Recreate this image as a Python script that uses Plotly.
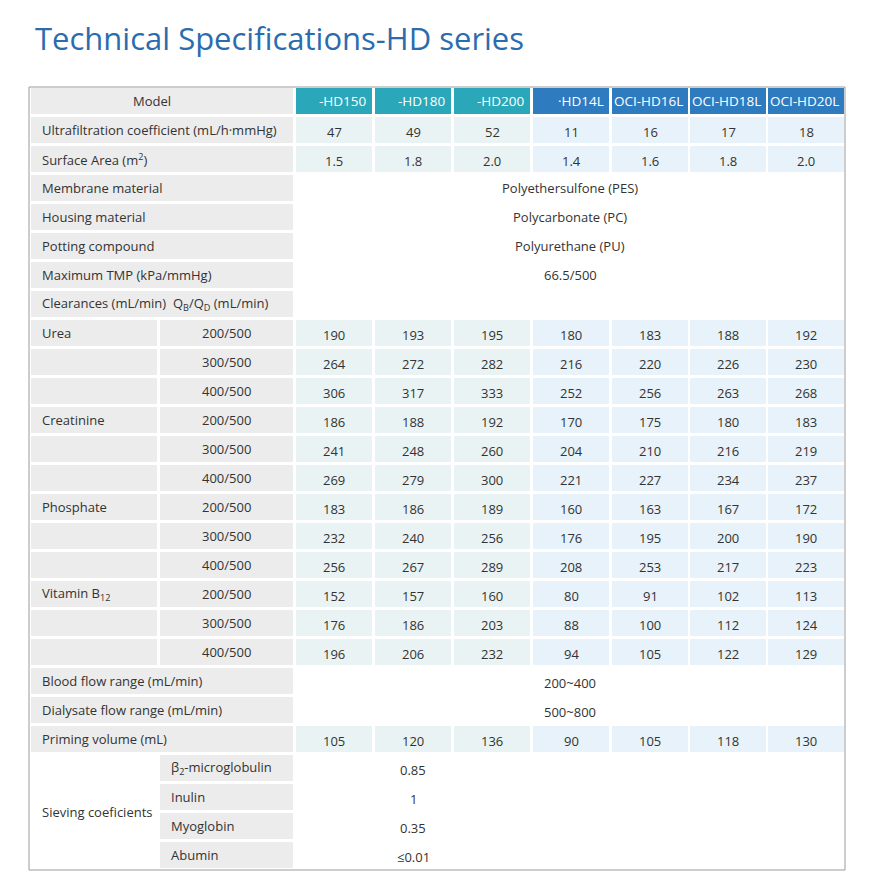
import plotly.graph_objects as go

models = ["-HD150", "-HD180", "-HD200", "·HD14L", "OCI-HD16L", "OCI-HD18L", "OCI-HD20L"]
ultrafiltration = [47, 49, 52, 11, 16, 17, 18]
surface_area = ["1.5", "1.8", "2.0", "1.4", "1.6", "1.8", "2.0"]
shared_specs = [
    ("Membrane material", "Polyethersulfone (PES)"),
    ("Housing material", "Polycarbonate (PC)"),
    ("Potting compound", "Polyurethane (PU)"),
    ("Maximum TMP (kPa/mmHg)", "66.5/500"),
]
flow_conditions = ["200/500", "300/500", "400/500"]
clearances = {
    "Urea": [[190, 193, 195, 180, 183, 188, 192],
             [264, 272, 282, 216, 220, 226, 230],
             [306, 317, 333, 252, 256, 263, 268]],
    "Creatinine": [[186, 188, 192, 170, 175, 180, 183],
                   [241, 248, 260, 204, 210, 216, 219],
                   [269, 279, 300, 221, 227, 234, 237]],
    "Phosphate": [[183, 186, 189, 160, 163, 167, 172],
                  [232, 240, 256, 176, 195, 200, 190],
                  [256, 267, 289, 208, 253, 217, 223]],
    "Vitamin B<sub>12</sub>": [[152, 157, 160, 80, 91, 102, 113],
                               [176, 186, 203, 88, 100, 112, 124],
                               [196, 206, 232, 94, 105, 122, 129]],
}
flow_ranges = [("Blood flow range (mL/min)", "200~400"),
               ("Dialysate flow range (mL/min)", "500~800")]
priming_volume = [105, 120, 136, 90, 105, 118, 130]
sieving_solutes = ["β<sub>2</sub>-microglobulin", "Inulin", "Myoglobin", "Abumin"]
sieving_values = ["0.85", "1", "0.35", "≤0.01"]

# layout geometry (pixels, page coordinates)
TOP, ROW_H = 88, 29.0
LBL_X0, LBL_SPLIT, LBL_X1 = 31, 159, 293
COL_X = [296, 375, 454, 533, 612, 690, 768]
COL_W = 76
GAP = 3
PAGE_PAD = 8  # browser body margin
TEXT = "#333333"
HEAD = ["#2aa8ba"] * 3 + ["#2f7bbf"] * 4
CELL = ["#eaf3f3"] * 3 + ["#e7f2fa"] * 4
GRAY = "#ececec"

shapes, annos = [], []


def rect(x0, x1, r, color, nrows=1):
    y0 = TOP + r * ROW_H
    shapes.append(dict(type="rect", x0=x0, x1=x1, y0=y0, y1=y0 + nrows * ROW_H - GAP,
                       fillcolor=color, line_width=0, layer="below"))


def text(x, r, s, align="center", color=TEXT, size=13, dy=0, nrows=1):
    y = TOP + r * ROW_H + (nrows * ROW_H - GAP) / 2 + dy
    annos.append(dict(x=x, y=y, text=s, showarrow=False, xanchor=align, yanchor="middle",
                      font=dict(color=color, size=size)))


def model_values(r, vals):
    for i, v in enumerate(vals):
        rect(COL_X[i], COL_X[i] + COL_W, r, CELL[i])
        text(COL_X[i] + COL_W / 2, r, str(v), dy=2)


r = 0
rect(LBL_X0, LBL_X1, r, GRAY)
text((LBL_X0 + LBL_X1) / 2 - 10, r, "Model")
for i, m in enumerate(models):
    rect(COL_X[i], COL_X[i] + COL_W, r, HEAD[i])
    text(COL_X[i] + COL_W - 3, r, m, align="right", color="white", size=13.5)
r += 1

rect(LBL_X0, LBL_X1, r, GRAY)
text(40, r, "Ultrafiltration coefficient (mL/h·mmHg)", align="left")
model_values(r, ultrafiltration)
r += 1
rect(LBL_X0, LBL_X1, r, GRAY)
text(40, r, "Surface Area (m<sup>2</sup>)", align="left")
model_values(r, surface_area)
r += 1

mid_all = (COL_X[0] + COL_X[-1] + COL_W) / 2
for lbl, val in shared_specs:
    rect(LBL_X0, LBL_X1, r, GRAY)
    text(40, r, lbl, align="left")
    text(mid_all, r, val)
    r += 1

rect(LBL_X0, LBL_X1, r, GRAY)
text(40, r, "Clearances (mL/min)  Q<sub>B</sub>/Q<sub>D</sub> (mL/min)", align="left")
r += 1

for name, rows in clearances.items():
    for k, vals in enumerate(rows):
        rect(LBL_X0, LBL_SPLIT - 2, r, GRAY)
        rect(LBL_SPLIT + 1, LBL_X1, r, GRAY)
        if k == 0:
            text(40, r, name, align="left")
        text((LBL_SPLIT + LBL_X1) / 2, r, flow_conditions[k])
        model_values(r, vals)
        r += 1

for lbl, val in flow_ranges:
    rect(LBL_X0, LBL_X1, r, GRAY)
    text(40, r, lbl, align="left")
    text(mid_all, r, val, dy=2)
    r += 1

rect(LBL_X0, LBL_X1, r, GRAY)
text(40, r, "Priming volume (mL)", align="left")
model_values(r, priming_volume)
r += 1

mid3 = (COL_X[0] + COL_X[2] + COL_W) / 2
text(40, r, "Sieving coeficients", align="left", nrows=len(sieving_solutes))
for k, (sol, val) in enumerate(zip(sieving_solutes, sieving_values)):
    rect(LBL_SPLIT + 1, LBL_X1, r, GRAY)
    text(LBL_SPLIT + 10, r, sol, align="left")
    text(mid3, r, val, dy=2)
    r += 1

bottom = TOP + r * ROW_H - GAP + 2
shapes.append(dict(type="rect", x0=29, x1=845, y0=TOP - 1, y1=bottom,
                   line=dict(color="#9a9a9a", width=1), fillcolor="rgba(0,0,0,0)"))

annos.append(dict(x=33, y=38, text="Technical Specifications-HD series", showarrow=False,
                  xanchor="left", yanchor="middle", font=dict(size=31, color="#2b6cae")))

fig = go.Figure()
fig.update_layout(
    width=877, height=893,
    margin=dict(l=0, r=0, t=0, b=0),
    paper_bgcolor="white", plot_bgcolor="white",
    font=dict(family="Open Sans, sans-serif", color=TEXT, size=13),
    xaxis=dict(range=[PAGE_PAD, 877 + PAGE_PAD], visible=False, fixedrange=True),
    yaxis=dict(range=[893 + PAGE_PAD, PAGE_PAD], visible=False, fixedrange=True),
    shapes=shapes, annotations=annos, showlegend=False,
)
fig.write_html("out.html")
